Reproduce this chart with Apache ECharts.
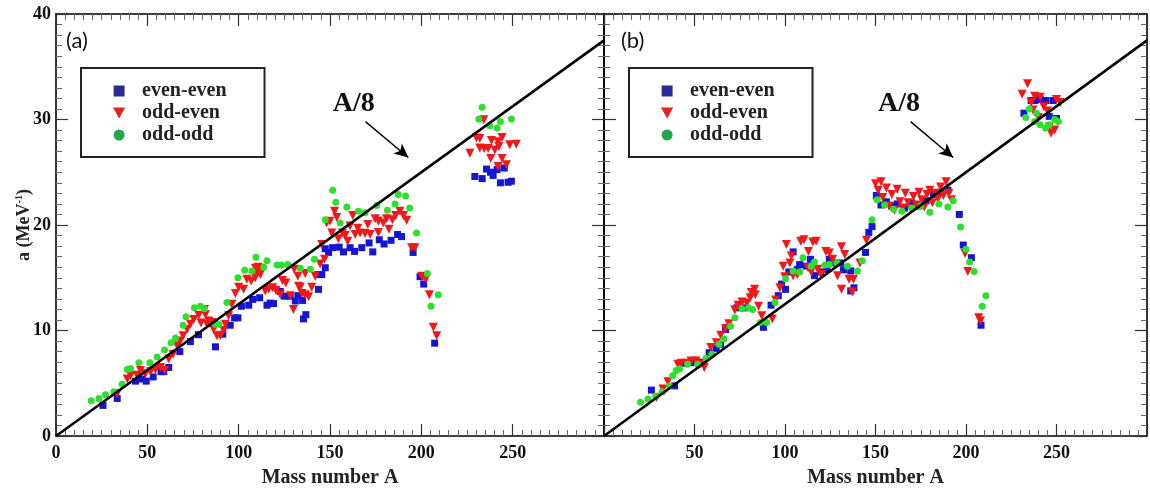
<!DOCTYPE html>
<html><head><meta charset="utf-8">
<script src="https://cdn.jsdelivr.net/npm/echarts@6/dist/echarts.min.js"></script>
<style>html,body{margin:0;padding:0;background:#fff}#c{width:1150px;height:493px}</style>
</head><body><div id="c"></div>
<script>
const seriesNames = ['even-even', 'odd-even', 'odd-odd'];
const xLabelsA = ['0', '50', '100', '150', '200', '250'];
const xLabelsB = ['50', '100', '150', '200', '250'];
const yLabelsA = ['0', '10', '20', '30', '40'];
const panelTags = ['(a)', '(b)'];
const lineName = 'A/8';

const aEvenEven = [
[25.7,2.9],[33.5,3.56],[43.5,5.2],[47,5.4],[49.4,5.2],[53.2,5.6],[57.5,6.1],[59,6.1],[61.7,6.5],[67.8,8.0],[73.6,8.95],[78,9.6],
[87.3,8.45],[91.3,9.65],[95.4,10.5],[97.8,11.2],[99.6,11.2],[101.5,12.3],[105.5,12.4],[107.7,12.95],[111.5,13.1],[115.5,12.4],[117.3,12.6],[119.1,12.55],[122.8,13.7],[125.1,13.25],[128.2,13.25],[131,12.8],[132.4,13.3],[135,12.85],[136.8,11.5],[135.5,11.1],[143.3,15.3],[145.5,15.3],[143.7,13.9],[147.4,15.95],
[147.4,17.75],[149.2,17.4],[151.4,17.85],[155,17.9],[157.4,17.45],[161,17.85],[163.4,17.5],[167.4,17.85],[171.4,18.3],[173.4,17.45],[177,18.6],[179.6,18.2],[183.4,18.55],[187,19.1],[189.2,18.9],[195.5,17.4],[199.3,15.1],[201.3,14.4],[207.3,8.8],
[229.3,24.6],[233.3,24.4],[235.7,25.3],[237.9,25.0],[239.3,24.7],[241.5,25.25],[245.4,25.4],[243.3,24.0],[247.5,24.05],[249.3,24.15]
];
const aOddEven = [
[33.5,4.0],[39,5.4],[40.8,5.7],[44.4,5.75],[46.3,6.2],[49,5.9],[51.7,6.1],[54.5,6.3],[57.2,6.5],[59.4,6.2],[61.7,7.3],[64.1,7.75],[66.3,8.55],[68.1,9.0],[69.6,9.5],[71.8,10.1],[73.6,10.6],[75.4,11.05],[78.1,11.45],[79.4,10.7],[81.3,12.0],[83.6,10.9],
[81.8,11.5],[82.7,10.6],[85.4,10.75],[86.3,10.1],[88.1,9.5],[90,9.5],[91.8,10.0],[92.7,10.6],[94.5,11.4],[96.3,12.5],[98.2,13.5],[100,14.1],[102.7,13.9],[104.5,14.85],[106.9,14.7],[109.1,15.0],[110,15.5],[111.9,15.3],[109.1,15.9],[110.6,16.0],[112.5,15.9],[114.6,13.75],[116.4,13.9],[118.6,14.05],[120.4,13.8],[122.8,13.4],[124,14.75],[125.8,14.5],[128.3,13.3],[130.4,15.8],[132.4,15.15],[132.8,14.2],[133.7,14.1],[134.7,13.5],[136.4,15.4],[136.4,13.4],[138.3,13.2],[130,12.0],[140,14.1],[141.9,15.15],[147,16.75],
[145.5,18.15],[144.6,16.3],[148.2,20.2],[150,20.35],[151,19.25],[152.5,21.3],[153.7,20.7],[154.6,18.7],[156.8,19.25],[158.3,19.0],[159.7,18.45],[161,19.9],[162.5,20.9],[163.8,19.1],[165.2,19.7],[166.5,19.25],[169.2,19.2],[170.7,20.05],[172,19.1],[174.7,20.6],[176.5,19.3],[176.5,20.35],[179.2,20.2],[181,20.6],[182.3,19.6],[184.2,20.5],[186,20.9],[188.3,21.3],[190.2,20.9],[192,20.45],[194.7,17.85],[196.5,17.85],[200.2,15.15],[202.5,14.85],[204.4,13.4],[206.6,10.3],[208.4,9.5],
[234.2,29.98],[230.2,28.25],[232,28.2],[238.4,28.0],[242,27.9],[244.2,28.3],[226.6,26.8],[232,27.3],[234.4,27.25],[236.6,27.25],[240.3,27.1],[242.4,27.45],[248.4,27.6],[252,27.65],[238,26.3],[244.2,26.3],[242,25.55],[246.6,25.7]
];
const aOddOdd = [
[19.3,3.35],[23.5,3.55],[27.1,3.9],[31.7,4.2],[36.2,4.9],[39,6.3],[40.8,6.4],[45.4,6.95],[51.4,6.95],[55.4,7.5],[59.4,8.15],[63,8.85],[65.4,9.3],[69.6,10.5],[71.2,11.3],[75.8,12.15],[79.1,12.3],[81.2,12.05],
[87.3,10.6],[89.1,10.6],[93.6,12.65],[99.6,15.0],[103.3,15.7],[107.3,15.65],[109.5,16.95],[113.7,16.0],[115.5,16.6],[121,16.2],[123.4,16.2],[126.9,16.25],[133.7,15.9],[139.2,15.8],[141.5,16.75],
[147.4,20.5],[151.5,23.3],[153.2,22.15],[155.6,20.2],[159.2,21.7],[165.6,21.3],[169.2,21.15],[175.6,21.85],[181.4,21.4],[185.6,22.0],[187.4,22.9],[191.4,22.75],[193.6,21.6],[197.4,19.25],[203.3,15.4],[205.3,12.3],[209.3,13.4],
[233.3,31.15],[231.5,30.05],[237.5,29.4],[243.3,29.8],[241.5,29.2],[249.3,30.05]
];
const bEvenEven = [
[26.2,4.35],[39,4.75],[43.9,6.9],[49,6.95],[53.6,7.0],[58.1,7.9],[62,8.3],[64.4,8.7],[67.2,10.1],[73.5,12.15],[78.1,12.15],
[88.1,10.3],[92.3,12.4],[96.3,13.3],[98.1,14.4],[100.3,13.9],[102.1,15.55],[104.5,17.45],[106.8,15.8],[108.1,16.25],[111.7,16.1],[114.1,16.75],[116.3,15.2],[119.6,15.55],[123.2,15.8],[124.5,16.75],[127.6,16.4],[130.8,16.4],[132.3,15.75],[136.3,15.65],[138.1,14.05],[136.3,13.75],[144.5,17.4],[146.3,19.3],[148.1,19.85],
[150.5,22.8],[153,21.9],[156,22.2],[159,21.8],[162,22.0],[166,21.6],[170,22.1],[174,21.8],[178,22.3],[182,22.9],[186,23.1],[190,23.3],[196.3,21.0],[198.5,18.1],[203,16.9],[208.3,10.5],
[232,30.6],[236,31.8],[238,31.8],[241,31.9],[244,31.8],[248,31.8],[250,30.1],[246,30.3]
];
const bOddEven = [
[29,3.65],[32.6,4.45],[35.3,5.15],[40.8,6.8],[42.6,6.9],[45.4,6.9],[48.1,7.1],[50.8,7.1],[53,6.8],[55.4,6.5],[59,8.4],[62.1,8.85],[64.5,9.55],[67.2,10.2],[69,10.65],[72.3,11.95],[74.1,12.4],[76.3,12.7],[79,12.6],[80.8,13.1],[83.6,13.4],
[81.4,13.6],[83.2,13.9],[85.4,12.3],[87.2,11.4],[93,11.1],[94.8,12.9],[97.2,14.05],[99,16.1],[100.8,18.15],[102.7,16.4],[104.5,15.2],[106.8,15.3],[108.7,18.45],[110.5,18.6],[113,17.5],[115.4,18.4],[117.2,18.45],[114.5,15.55],[118.1,15.8],[119.9,15.3],[122.6,17.5],[124.5,17.35],[126.3,16.75],[129,15.2],[131.2,17.95],[133,17.2],[135.4,14.85],[137.8,14.85],[131.2,13.9],[137.2,13.65],[141.4,16.4],[145,18.55],[99.9,15.1],[103.5,17.05],[112.7,15.95],
[150,23.9],[151.5,23.3],[153,24.1],[154,22.6],[156,23.5],[157.5,21.8],[159,22.9],[160.5,21.4],[162,23.4],[163.5,22.2],[165,21.6],[166.5,23.0],[168,22.1],[169.5,21.5],[171,22.7],[172.5,21.9],[174,23.1],[175.5,22.4],[177,21.7],[178.5,22.9],[180,23.3],[181.5,22.1],[183,23.0],[184.5,22.5],[186,23.6],[187.5,22.8],[189,24.1],[190.5,23.0],[192,22.4],[199.5,17.3],[201,15.6],[207,11.2],[208,10.9],
[234,33.4],[231,32.4],[236,31.6],[238,32.2],[241,32.1],[243,31.2],[245,30.8],[246,29.3],[247,28.7],[249,29.0],[250,31.9],[240,30.2],[237,30.9],[252,31.6]
];
const bOddOdd = [
[20.2,3.2],[24.4,3.5],[28.6,3.8],[32.2,4.2],[36.2,4.75],[38,5.7],[39.9,6.2],[41.7,6.35],[46.2,6.8],[51.7,6.8],[56.3,7.35],[59.6,7.75],[63.5,8.7],[66.3,9.2],[69.9,10.4],[72.3,11.2],[76.3,12.05],[79.9,12.15],[82.1,12.0],
[86.3,10.75],[89.9,10.75],[94.5,12.65],[100.3,14.9],[104.5,15.65],[108.1,15.55],[109.9,16.9],[114.5,16.1],[116.3,16.5],[122.1,16.2],[124.5,16.25],[128.7,16.4],[134.5,16.1],[140,15.65],[142.7,16.6],[148.1,20.5],
[151,22.4],[155,21.9],[160,21.5],[164.6,21.3],[170,21.6],[175,21.8],[180,21.2],[185,22.0],[190,21.7],[193,22.3],[197,19.8],[200,17.7],[202,16.5],[204.5,15.6],[209,12.3],[211,13.3],
[233,30.2],[235,31.0],[238,29.8],[239,30.6],[241,29.5],[244,29.2],[246,29.5],[249,30.0],[251,29.8]
];
const refLine = [[0, 0], [300, 37.5]];
const arrowFrom = [169.4, 29.8];
const arrowTo = [192.9, 26.4];
const lineLabelAt = [163, 31.5];

const serif = 'Liberation Serif';
const seriesColors = ['#1515d6', '#f01818', '#2ee02e'];
const legendColors = ['#2a2a96', '#e52222', '#22a84a'];
const seriesSymbols = ['rect', 'triangle', 'circle'];
const seriesSizes = [7, 9, 7];
const seriesRot = [0, 180, 0];
const legendIcons = ['path://M0,0 L10,0 L10,10 L0,10 Z', 'path://M0,0 L10,0 L5,9 Z', 'circle'];

const grids = [
  {left: 56, top: 14, width: 548, height: 423},
  {left: 604, top: 14, width: 546, height: 423}
];

function tickCfg() {
  return {
    axisLine: {show: true, onZero: false, lineStyle: {color: '#000', width: 1.6}},
    axisTick: {show: true, inside: true, length: 12, lineStyle: {color: '#333', width: 1.2}},
    minorTick: {show: true, splitNumber: 10, length: 6, lineStyle: {color: '#666', width: 1}},
    splitLine: {show: false}
  };
}
const labelFont = {fontFamily: serif, fontWeight: 'bold', fontSize: 18, color: '#111'};
const xAxes = [], yAxes = [];
[xLabelsA, xLabelsB].forEach((labs, gi) => {
  xAxes.push(Object.assign({
    gridIndex: gi, type: 'value', min: 0, max: 300, interval: 50, position: 'bottom',
    axisLabel: Object.assign({show: true, margin: 8, formatter: v => labs.includes(String(v)) ? String(v) : ''}, labelFont),
    name: 'Mass number A', nameLocation: 'middle', nameGap: 32,
    nameTextStyle: {fontFamily: serif, fontWeight: 'bold', fontSize: 20, color: '#222'}
  }, tickCfg()));
  xAxes.push(Object.assign({
    gridIndex: gi, type: 'value', min: 0, max: 300, interval: 50, position: 'top',
    axisLabel: {show: false}
  }, tickCfg()));
  yAxes.push(Object.assign({
    gridIndex: gi, type: 'value', min: 0, max: 40, interval: 10, position: 'left',
    axisLabel: Object.assign({show: gi === 0, margin: 5, formatter: v => yLabelsA.includes(String(v)) ? String(v) : ''}, labelFont),
    name: gi === 0 ? '{n|a (MeV}{s|-1}{n|)}' : '', nameLocation: 'middle', nameGap: 22, nameRotate: 90,
    nameMoveOverlap: false,
    nameTextStyle: {rich: {
      n: {fontFamily: serif, fontWeight: 'bold', fontSize: 18, color: '#222', lineHeight: 20},
      s: {fontFamily: serif, fontWeight: 'bold', fontSize: 10, color: '#222', verticalAlign: 'top', lineHeight: 20}
    }}
  }, tickCfg()));
  yAxes.push(Object.assign({
    gridIndex: gi, type: 'value', min: 0, max: 40, interval: 10, position: 'right',
    axisLabel: {show: false}
  }, tickCfg()));
});

const panels = [[aEvenEven, aOddEven, aOddOdd], [bEvenEven, bOddEven, bOddOdd]];
const series = [];
panels.forEach((sets, gi) => {
  sets.forEach((data, k) => {
    series.push({
      type: 'scatter', name: seriesNames[k], xAxisIndex: gi * 2, yAxisIndex: gi * 2,
      data: data, symbol: seriesSymbols[k], symbolSize: seriesSizes[k], symbolRotate: seriesRot[k],
      itemStyle: {color: seriesColors[k], opacity: 1}, silent: true, z: 2 + k
    });
  });
  series.push({
    type: 'line', name: lineName, xAxisIndex: gi * 2, yAxisIndex: gi * 2,
    data: refLine, symbol: 'none', lineStyle: {color: '#000', width: 2.6}, z: 6, silent: true,
    markLine: {
      silent: true, symbol: ['none', 'arrow'], symbolSize: [10, 14],
      lineStyle: {color: '#000', width: 1.4, type: 'solid'}, label: {show: false},
      data: [[{coord: arrowFrom}, {coord: arrowTo}]]
    },
    markPoint: {
      silent: true, symbol: 'circle', symbolSize: 1, itemStyle: {color: 'rgba(0,0,0,0)'},
      label: {show: true, position: 'inside', formatter: lineName, fontFamily: serif, fontWeight: 'bold', fontSize: 28, color: '#111'},
      data: [{coord: lineLabelAt}]
    }
  });
});

const legends = grids.map((g, gi) => ({
  orient: 'vertical', left: g.left + 25, top: 68,
  padding: [13, 38, 12, 32], itemGap: 2, itemWidth: 36, itemHeight: 11,
  borderColor: '#222', borderWidth: 2, selectedMode: false,
  textStyle: {fontFamily: serif, fontWeight: 'bold', fontSize: 20, color: '#222'},
  data: seriesNames.map((n, k) => ({name: n, icon: legendIcons[k], itemStyle: {color: legendColors[k]}}))
}));

const graphics = grids.map((g, gi) => ({
  type: 'text', left: g.left + (gi === 0 ? 10 : 17), top: 30,
  style: {text: panelTags[gi], font: '22px Lato', fill: '#111'}
}));

const chart = echarts.init(document.getElementById('c'), null, {renderer: 'canvas'});
chart.setOption({
  animation: false,
  backgroundColor: '#fff',
  grid: grids,
  xAxis: xAxes,
  yAxis: yAxes,
  legend: legends,
  graphic: graphics,
  series: series
});
</script>
</body></html>
